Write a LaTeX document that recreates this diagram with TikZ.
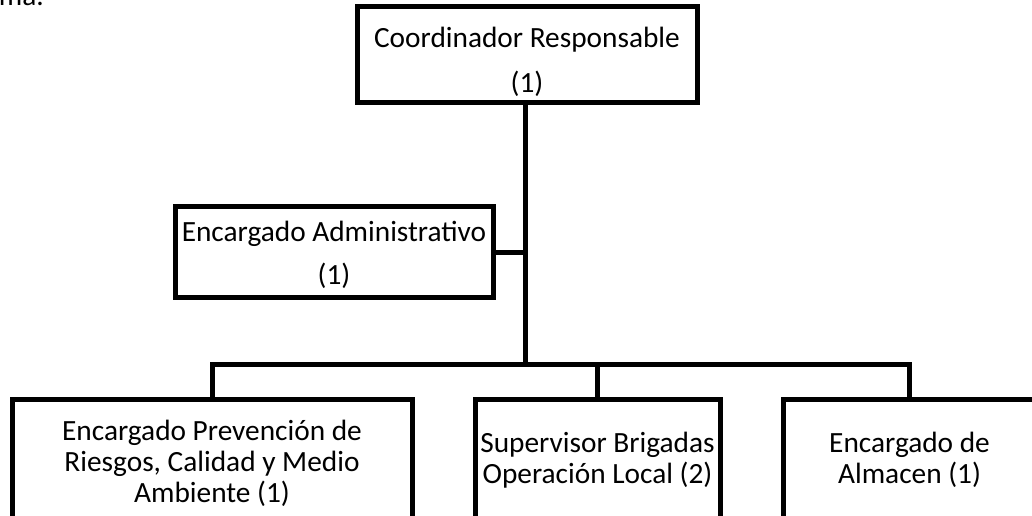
\documentclass[tikz,border=0pt]{standalone}
\usepackage{fontspec}
\setmainfont{Carlito}
\usepackage{tikz}

\begin{document}
\begin{tikzpicture}[x=0.75pt,y=-0.75pt,
        box/.style={draw=black,line width=3.75pt,align=center,inner sep=0pt},
        link/.style={black,line width=3.75pt}]
        \useasboundingbox (0,0) rectangle (1032,516);
        \clip (0,0) rectangle (1032,516);
        \fontsize{22}{23.2}\selectfont
        \node[anchor=base east,inner sep=0pt] (prev) at (44,6) {ma.};
        \node[box,minimum width=255pt,minimum height=72pt] (top) at (527,55)
            {\rule{0pt}{25.5pt}Coordinador Responsable\\[10.3pt](1)};
        \node[box,minimum width=238.5pt,minimum height=68.25pt] (admin) at (334,252.5)
            {\rule{0pt}{18.5pt}Encargado Administrativo\\[9.3pt](1)};
        \node[box,minimum width=300pt,minimum height=88.5pt] (left) at (212,459)
            {\rule{0pt}{22pt}Encargado Prevención de\\Riesgos, Calidad y Medio\\Ambiente (1)};
        \node[box,minimum width=183.75pt,minimum height=88.5pt] (mid) at (597.5,459)
            {\rule{0pt}{17pt}Supervisor Brigadas\\Operación Local (2)};
        \node[box,minimum width=189.75pt,minimum height=88.5pt] (right) at (909.5,459)
            {\rule{0pt}{17pt}Encargado de\\Almacen (1)};
        \coordinate (bus) at (525,365);
        \draw [link] (top.south -| bus) -- (bus);
        \draw [link] (admin.east) -- (admin.east -| bus);
        \draw [link] (left.north) -- (left.north |- bus) -- (right.north |- bus) -- (right.north);
        \draw [link] (mid.north) -- (mid.north |- bus);
    \end{tikzpicture}
\end{document}
